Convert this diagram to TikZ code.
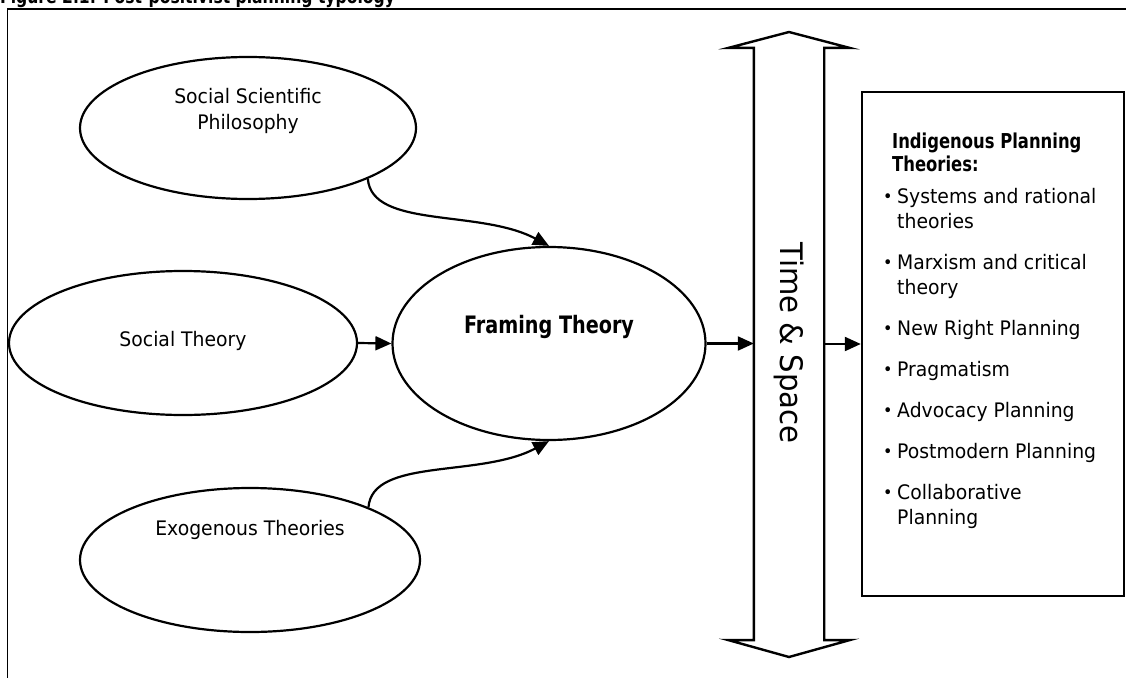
\documentclass[tikz,border=0pt]{standalone}
\usepackage{fontspec}
\setmainfont{DejaVu Sans}[FakeStretch=0.94]
\newfontfamily\bfont{DejaVu Sans}[FakeStretch=0.8]
\usetikzlibrary{shapes.geometric,arrows.meta}
\begin{document}
\begin{tikzpicture}[x=1pt,y=-1pt,
  ell/.style={draw, ellipse, line width=2.2pt, inner sep=0pt},
  txt/.style={font=\fontsize{20}{26}\selectfont, align=center, inner sep=0pt},
  bold/.style={font=\bfont\bfseries\fontsize{24}{28}\selectfont, inner sep=0pt},
  head/.style={font=\bfont\bfseries\fontsize{20.5}{23}\selectfont, inner sep=0pt, anchor=base west},
  item/.style={font=\fontsize{20}{25}\selectfont, inner sep=0pt, anchor=base west},
  bul/.style={font=\fontsize{17}{17}\selectfont, inner sep=0pt, anchor=base west},
  arr/.style={line width=2.2pt, -{Triangle[length=16pt,width=14pt]}},
  frame/.style={line width=1.8pt}]
\useasboundingbox (0,0) rectangle (1126,677);
% title (cut off by the page edge)
\node[anchor=base west, font=\bfont\bfseries\fontsize{19.5}{19.5}\selectfont, inner sep=0pt] (title) at (0,4) {Figure 2.1: Post-positivist planning typology};
% outer frame
\draw[frame] (1127,9) -- (7.5,9) -- (7.5,678);
% ellipses
\node[ell, minimum width=336, minimum height=142] (ssp) at (248,128) {};
\node[txt] (ssptxt) at (248,111) {Social Scientific\\Philosophy};
\node[ell, minimum width=348, minimum height=144] (st) at (183,343) {};
\node[txt] (sttxt) at (183,341) {Social Theory};
\node[ell, minimum width=340, minimum height=144] (ex) at (250,560) {};
\node[txt] (extxt) at (250,530) {Exogenous Theories};
\node[ell, minimum width=313, minimum height=193] (ft) at (549,343.5) {};
\node[bold] (fttxt) at (549,327) {Framing Theory};
% time & space double arrow
\node[minimum width=70, minimum height=592, inner sep=0pt] (shaft) at (789,344) {};
\draw[line width=2.4pt, line join=miter] (789,32) -- (850,48) -- (shaft.north east) -- (shaft.south east) -- (850,640) -- (789,657) -- (728,640) -- (shaft.south west) -- (shaft.north west) -- (728,48) -- cycle;
\node[rotate=-90, font=\fontsize{31}{31}\selectfont, inner sep=0pt] (ts) at (789,343) {Time \& Space};
% indigenous box
\node[draw, line width=2.4pt, minimum width=262, minimum height=504, inner sep=0pt] (ib) at (993,344) {};
\node[head] (h1) at (892,148) {Indigenous Planning};
\node[head] (h2) at (892,171) {Theories:};
\foreach \y/\t/\n in {203/Systems and rational/i1, 269/Marxism and critical/i2, 335/New Right Planning/i3, 376/Pragmatism/i4, 417/Advocacy Planning/i5, 458/Postmodern Planning/i6, 499/Collaborative/i7}{
  \node[item] (\n) at (897,\y) {\t};
  \node[bul] (b\n) at (883,\y-1) {•};
}
\node[item] (i1b) at (897,228) {theories};
\node[item] (i2b) at (897,294) {theory};
\node[item] (i7b) at (897,524) {Planning};
% connectors
\draw[arr] (ssp.-23) .. controls +(4,50) and +(-69,-37) .. (ft.north);
\draw[arr] (ex.24) .. controls +(4,-50) and +(-69,37) .. (ft.south);
\draw[arr] (st.east) -- (ft.west);
\draw[arr] (ft.east) -- (ft.east -| shaft.west);
\draw[arr] (shaft.east) -- (ib.west);
\end{tikzpicture}
\end{document}
